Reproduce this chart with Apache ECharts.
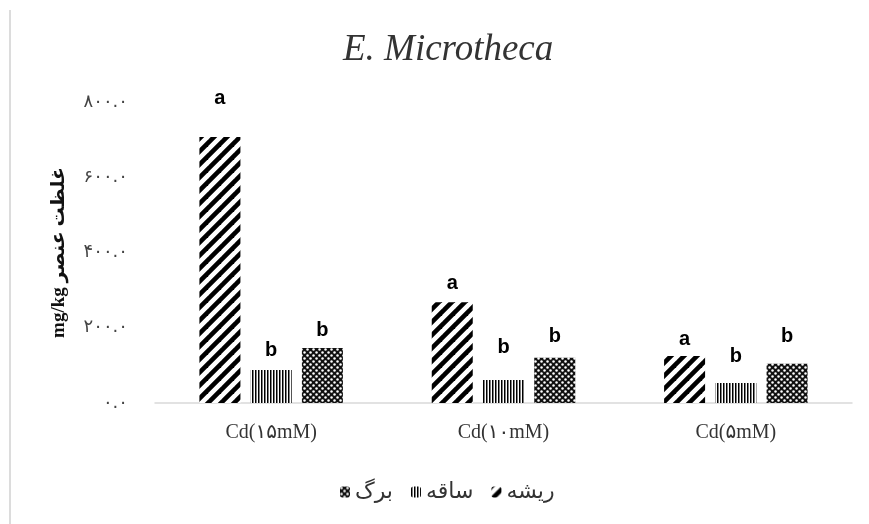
<!DOCTYPE html>
<html>
<head>
<meta charset="utf-8">
<script src="https://cdn.jsdelivr.net/npm/echarts@6/dist/echarts.min.js"></script>
<style>html,body{margin:0;padding:0;background:#fff}#c{width:869px;height:524px}</style>
</head>
<body>
<div id="c"></div>
<script>
// ---- data ----
var categories = ['Cd(۱۵mM)', 'Cd(۱۰mM)', 'Cd(۵mM)'];
var seriesNames = ['ریشه', 'ساقه', 'برگ'];
var rootValues = [707, 268, 125];
var stemValues = [88, 61, 53];
var leafValues = [146, 120, 104];
// height (in data units) above each bar where its significance letter sits
var rootLetterGap = [75, 22, 16];
var stemLetterGap = [26, 61, 43];
var leafLetterGap = [21, 29, 45];
var rootLetters = ['a', 'a', 'a'];
var stemLetters = ['b', 'b', 'b'];
var leafLetters = ['b', 'b', 'b'];
var yTickValues = [0, 200, 400, 600, 800];
var yTickLabels = ['۰.۰', '۲۰۰.۰', '۴۰۰.۰', '۶۰۰.۰', '۸۰۰.۰'];
var chartTitle = 'E. Microtheca';
var yAxisTitle = 'mg/kg غلظت عنصر';

// ---- patterns ----
function makeTile(w, h, draw) {
  var c = document.createElement('canvas');
  c.width = w; c.height = h;
  var ctx = c.getContext('2d');
  ctx.fillStyle = '#fff'; ctx.fillRect(0, 0, w, h);
  draw(ctx, w, h);
  return { image: c, repeat: 'repeat' };
}
var diagPattern = makeTile(13, 13, function (ctx, w, h) {
  ctx.strokeStyle = '#000'; ctx.lineWidth = 4.6; ctx.lineCap = 'butt';
  [-w, 0, w].forEach(function (o) {
    ctx.beginPath(); ctx.moveTo(o - 2, h + 2); ctx.lineTo(o + w + 2, -2); ctx.stroke();
  });
});
var vertPattern = makeTile(3, 4, function (ctx, w, h) {
  ctx.fillStyle = '#000'; ctx.fillRect(0, 0, 1.5, h);
});
var crossPattern = makeTile(6, 6, function (ctx, w, h) {
  ctx.fillStyle = '#111'; ctx.fillRect(0, 0, w, h);
  ctx.fillStyle = '#fff';
  [[1.5, 1.5], [4.5, 4.5]].forEach(function (p) {
    ctx.beginPath(); ctx.arc(p[0], p[1], 1.25, 0, Math.PI * 2); ctx.fill();
  });
});

var labelStyle = {
  show: true, position: 'top', distance: 0,
  fontFamily: 'Liberation Sans, Arial, sans-serif', fontWeight: 'bold',
  fontSize: 20, color: '#000'
};
function letterSeries(stack, gaps, letters) {
  return {
    type: 'bar', stack: stack, silent: true, barWidth: 41, barGap: '25%',
    itemStyle: { color: 'rgba(0,0,0,0)' },
    label: Object.assign({}, labelStyle, {
      formatter: function (p) { return letters[p.dataIndex]; }
    }),
    data: gaps
  };
}

var chart = echarts.init(document.getElementById('c'), null, { renderer: 'canvas' });
chart.setOption({
  animation: false,
  backgroundColor: '#fff',
  title: {
    text: chartTitle, left: 338, top: 27,
    textStyle: { fontFamily: 'Liberation Serif, Times New Roman, serif', fontStyle: 'italic',
      fontWeight: 'normal', fontSize: 37, color: '#333' }
  },
  legend: {
    data: [seriesNames[2], seriesNames[1], seriesNames[0]],
    left: 335, top: 476, itemWidth: 10, itemHeight: 11, itemGap: 18,
    textStyle: { fontFamily: 'DejaVu Sans, Arial, sans-serif', fontSize: 22, color: '#333' }
  },
  grid: { left: 155, right: 17, top: 102, bottom: 121, containLabel: false },
  xAxis: {
    type: 'category', data: categories,
    axisLine: { lineStyle: { color: '#d9d9d9', width: 1.5 } },
    axisTick: { show: false },
    axisLabel: { margin: 20, fontFamily: 'Liberation Serif, Times New Roman, DejaVu Sans, serif', fontSize: 20, color: '#333' }
  },
  yAxis: {
    type: 'value', min: yTickValues[0], max: yTickValues[yTickValues.length - 1], interval: 200,
    name: yAxisTitle, nameLocation: 'middle', nameRotate: 90, nameGap: 86,
    nameTextStyle: { fontFamily: 'Liberation Serif, Times New Roman, DejaVu Sans, serif', fontWeight: 'bold', fontSize: 19, color: '#111' },
    axisLine: { show: false }, axisTick: { show: false }, splitLine: { show: false },
    axisLabel: {
      margin: 27, fontFamily: 'DejaVu Sans, serif', fontSize: 18, color: '#444',
      formatter: function (v) { var i = yTickValues.indexOf(v); return i >= 0 ? yTickLabels[i] : ''; }
    }
  },
  graphic: [{
    type: 'line', shape: { x1: 10, y1: 10, x2: 10, y2: 524 },
    style: { stroke: '#dcdcdc', lineWidth: 2 }
  }],
  series: [
    { name: seriesNames[0], type: 'bar', stack: 'root', barWidth: 41, barGap: '25%',
      itemStyle: { color: diagPattern }, data: rootValues },
    letterSeries('root', rootLetterGap, rootLetters),
    { name: seriesNames[1], type: 'bar', stack: 'stem', barWidth: 41, barGap: '25%',
      itemStyle: { color: vertPattern }, data: stemValues },
    letterSeries('stem', stemLetterGap, stemLetters),
    { name: seriesNames[2], type: 'bar', stack: 'leaf', barWidth: 41, barGap: '25%',
      itemStyle: { color: crossPattern }, data: leafValues },
    letterSeries('leaf', leafLetterGap, leafLetters)
  ]
});
</script>
</body>
</html>
